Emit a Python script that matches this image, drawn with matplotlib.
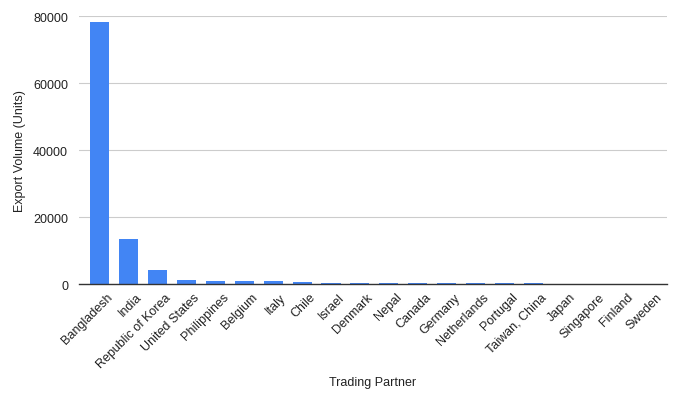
import matplotlib
matplotlib.use("Agg")
import matplotlib.pyplot as plt
from matplotlib.transforms import ScaledTranslation

plt.rcParams['font.family'] = ['Liberation Sans', 'DejaVu Sans']

partners = ['Bangladesh', 'India', 'Republic of Korea', 'United States', 'Philippines',
            'Belgium', 'Italy', 'Chile', 'Israel', 'Denmark', 'Nepal', 'Canada',
            'Germany', 'Netherlands', 'Portugal', 'Taiwan, China', 'Japan',
            'Singapore', 'Finland', 'Sweden']
volumes = [78200, 13500, 4200, 1250, 950, 950, 950, 650, 350, 350,
           280, 280, 280, 280, 280, 280, 0, 0, 0, 0]
yticks = [0, 20000, 40000, 60000, 80000]

fig = plt.figure(figsize=(6.82, 4.06), dpi=100)
ax = fig.add_axes([0.116, 0.298, 0.862, 0.660])

x = list(range(len(partners)))
ax.bar(x, volumes, width=0.66, color='#4285F4', zorder=3)

ax.set_xlim(-0.71, 19.62)
ax.set_ylim(0, 80000)
ax.set_yticks(yticks)
ax.set_yticklabels([str(t) for t in yticks], fontsize=9, color='#222222')
ax.set_xticks(x)
ax.set_xticklabels(partners, rotation=45, ha='right', rotation_mode='anchor',
                   fontsize=9, color='#222222')
ax.tick_params(axis='both', length=0)
ax.tick_params(axis='y', pad=8)
ax.tick_params(axis='x', pad=2)
# nudge the slanted labels so they sit like the original
shift = ScaledTranslation(7 / 100, -4 / 100, fig.dpi_scale_trans)
for lbl in ax.get_xticklabels():
    lbl.set_transform(lbl.get_transform() + shift)

ax.grid(axis='y', color='#cccccc', linewidth=0.8, zorder=0)
for side in ['top', 'right', 'left']:
    ax.spines[side].set_visible(False)
ax.spines['bottom'].set_color('#333333')
ax.spines['bottom'].set_linewidth(1.0)
ax.spines['bottom'].set_zorder(4)

ax.set_xlabel('Trading Partner', fontsize=9, color='#222222')
ax.set_ylabel('Export Volume (Units)', fontsize=9, color='#222222')
ax.xaxis.set_label_coords(0.5, -0.345)
ax.yaxis.set_label_coords(-0.091, 0.5)

fig.savefig('out.png', dpi=100)
